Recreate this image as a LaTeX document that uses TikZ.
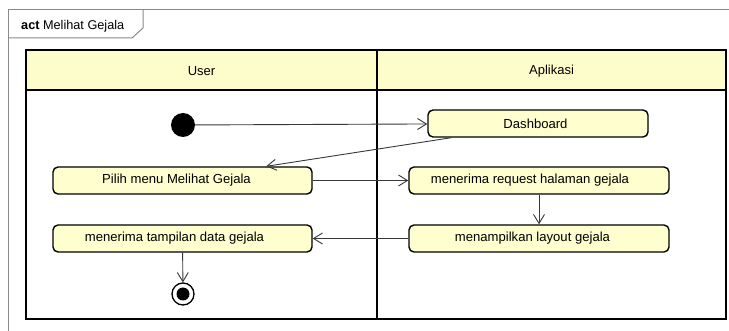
\documentclass[tikz,border=0pt]{standalone}
\usepackage{fontspec}
\setmainfont{Liberation Sans}
\usetikzlibrary{arrows.meta,calc}
\definecolor{actfill}{HTML}{FEFECE}
\definecolor{lanehead}{HTML}{FDFDCB}
\definecolor{flow}{HTML}{383838}
\definecolor{framegray}{HTML}{8A8A8A}
\begin{document}
\begin{tikzpicture}[x=1pt,y=-1pt,
  action/.style={draw=black,line width=1.4pt,fill=actfill,rounded corners=5pt,
    minimum height=27pt,inner sep=0pt,font=\fontsize{13.1}{15}\selectfont},
  % labels sit a little left of the box centre
  lefttext/.style={execute at end node={\hspace{#1}}},
  flowline/.style={draw=flow,line width=0.9pt,
    -{Straight Barb[length=9pt,width=11pt,line width=0.9pt]}},
  lanetext/.style={font=\fontsize{13}{15}\selectfont}]
\useasboundingbox (0,0) rectangle (729,331);
\fill[white] (0,0) rectangle (729,331);

% diagram frame with its name tab
\draw[framegray,line width=1pt] (729,10) -- (8,10) -- (8,331);
\draw[framegray,line width=1pt] (8,38) -- (132,38) -- (143,28) -- (143,10);
\node[anchor=base west,inner sep=0pt,font=\fontsize{12.7}{14}\selectfont] (title) at (21,30)
  {\textbf{act} Melihat Gejala};

% swimlanes
\fill[lanehead] (26,50) rectangle (726,90);
\draw[black,line width=1.5pt] (26,50) rectangle (726,319);
\draw[black,line width=1.5pt] (26,90) -- (726,90);
\draw[black,line width=1.2pt] (377,50) -- (377,319);
\node[lanetext] (laneUser) at (201.5,71) {User};
\node[lanetext] (laneApp) at (551.5,71) {Aplikasi};

% start and end
\node[circle,fill=black,minimum size=24pt,inner sep=0pt] (start) at (183,125) {};
\node[circle,draw=black,line width=1.3pt,fill=white,minimum size=22pt,inner sep=0pt] (stop) at (183,294) {};
\node[circle,fill=black,minimum size=13pt,inner sep=0pt] (stopdot) at (183,294) {};

% actions
\node[action,lefttext=5pt,minimum width=220pt] (dash) at (538,123.5) {Dashboard};
\node[action,lefttext=12pt,minimum width=259pt] (pilih) at (182.5,180.5) {Pilih menu Melihat Gejala};
\node[action,lefttext=18pt,minimum width=260pt] (req) at (539,180.5) {menerima request halaman gejala};
\node[action,lefttext=16pt,minimum width=259pt] (terima) at (182.5,238.5) {menerima tampilan data gejala};
\node[action,lefttext=13pt,minimum width=260pt] (layout) at (539,238.5) {menampilkan layout gejala};

% control flow
\draw[flowline] (start) -- (dash);
\draw[flowline] ($(dash.south west)+(24,0)$) -- ($(pilih.north west)+(214,0)$);
\draw[flowline] (pilih) -- (req);
\draw[flowline] (req) -- (layout);
\draw[flowline] (layout) -- (terima);
\draw[flowline] (terima) -- (stop);
\end{tikzpicture}
\end{document}
